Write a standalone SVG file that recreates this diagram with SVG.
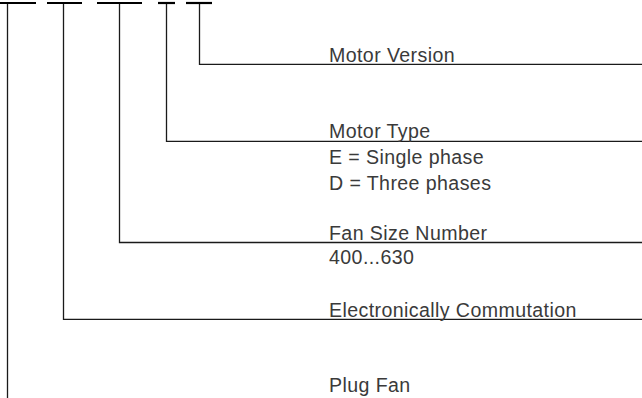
<svg xmlns="http://www.w3.org/2000/svg" width="642" height="398" viewBox="0 0 642 398">
<style>
.bar{stroke:#000;stroke-width:2.2;fill:none}
.ln{stroke:#1a1a1a;stroke-width:1.3;fill:none}
.t{font-family:"Liberation Sans",Arial,sans-serif;font-size:19.6px;fill:#3a3a3a;letter-spacing:0.4px}
</style>
<rect width="642" height="398" fill="#fff"/>
<g id="code-bars">
<line class="bar" x1="0" y1="3" x2="36" y2="3"/>
<line class="bar" x1="47" y1="3" x2="82" y2="3"/>
<line class="bar" x1="97" y1="3" x2="142" y2="3"/>
<line class="bar" x1="158" y1="3" x2="175" y2="3"/>
<line class="bar" x1="186" y1="3" x2="212" y2="3"/>
</g>
<g id="connectors">
<polyline class="ln" points="7.5,4 7.5,398"/>
<polyline class="ln" points="63.5,4 63.5,319.3 642,319.3"/>
<polyline class="ln" points="119.5,4 119.5,242.5 642,242.5"/>
<polyline class="ln" points="166.5,4 166.5,141.3 642,141.3"/>
<polyline class="ln" points="199.5,4 199.5,64.3 642,64.3"/>
</g>
<g id="motor-version">
<text class="t" x="329" y="61.5">Motor Version</text>
</g>
<g id="motor-type">
<text class="t" x="329" y="137.5">Motor Type</text>
<text class="t" x="329" y="164">E = Single phase</text>
<text class="t" x="329" y="190">D = Three phases</text>
</g>
<g id="fan-size">
<text class="t" x="329" y="240">Fan Size Number</text>
<text class="t" x="329" y="264">400...630</text>
</g>
<g id="ec">
<text class="t" x="329" y="317">Electronically Commutation</text>
</g>
<g id="plug-fan">
<text class="t" x="329" y="392">Plug Fan</text>
</g>
</svg>
